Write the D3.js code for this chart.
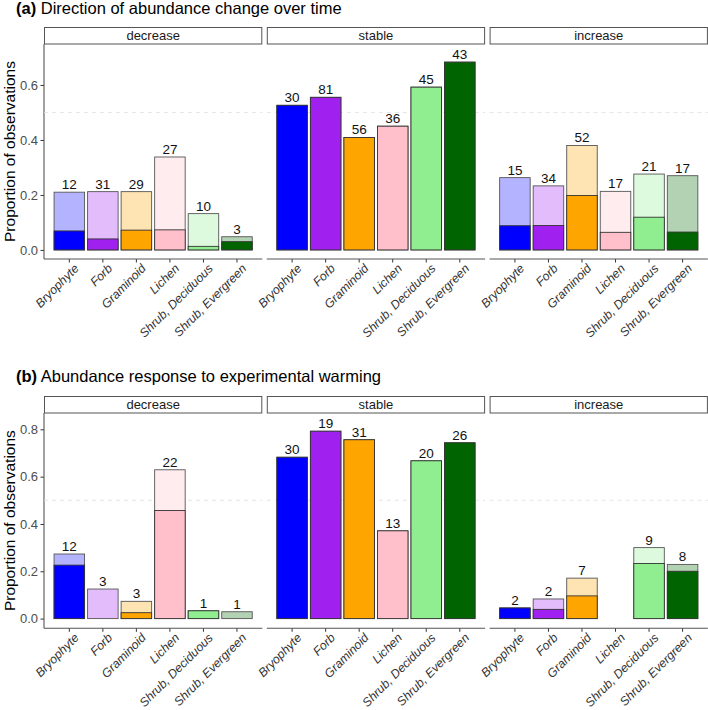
<!DOCTYPE html>
<html>
<head>
<meta charset="utf-8">
<script src="https://cdn.jsdelivr.net/npm/d3@7"></script>
<style>
  body { margin: 0; background: #fff; }
  svg text { font-family: "Liberation Sans", Arial, Helvetica, sans-serif; }
</style>
</head>
<body>
<div id="chart"></div>
<script>
// plant groups and their colours
var groups = ["Bryophyte", "Forb", "Graminoid", "Lichen", "Shrub, Deciduous", "Shrub, Evergreen"];
var directions = ["decrease", "stable", "increase"];
var groupColors = ["#0000FF", "#A020F0", "#FFA500", "#FFC0CB", "#90EE90", "#006400"];

// (a) Direction of abundance change over time
var aTotalDecrease = [0.21, 0.212, 0.212, 0.338, 0.132, 0.048];
var aDarkDecrease = [0.069, 0.040, 0.072, 0.073, 0.013, 0.030];
var aCountDecrease = [12, 31, 29, 27, 10, 3];
var aTotalStable = [0.526, 0.555, 0.409, 0.45, 0.592, 0.683];
var aDarkStable = [0.526, 0.555, 0.409, 0.45, 0.592, 0.683];
var aCountStable = [30, 81, 56, 36, 45, 43];
var aTotalIncrease = [0.263, 0.233, 0.38, 0.213, 0.276, 0.27];
var aDarkIncrease = [0.088, 0.089, 0.198, 0.064, 0.119, 0.065];
var aCountIncrease = [15, 34, 52, 17, 21, 17];

// (b) Abundance response to experimental warming
var bTotalDecrease = [0.273, 0.125, 0.073, 0.629, 0.033, 0.029];
var bDarkDecrease = [0.226, 0, 0.025, 0.457, 0.033, 0];
var bCountDecrease = [12, 3, 3, 22, 1, 1];
var bTotalStable = [0.682, 0.792, 0.756, 0.371, 0.667, 0.743];
var bDarkStable = [0.682, 0.792, 0.756, 0.371, 0.667, 0.743];
var bCountStable = [30, 19, 31, 13, 20, 26];
var bTotalIncrease = [0.045, 0.083, 0.171, 0, 0.3, 0.229];
var bDarkIncrease = [0.045, 0.039, 0.096, 0, 0.233, 0.2];
var bCountIncrease = [2, 2, 7, 0, 9, 8];

var aTicks = [0, 0.2, 0.4, 0.6];
var bTicks = [0, 0.2, 0.4, 0.6, 0.8];

var svgWidth = 708;
var svgHeight = 710;

var svg = d3.select("#chart")
  .append("svg")
  .attr("width", svgWidth)
  .attr("height", svgHeight);

// facet geometry
var panelLeft = 44;
var panelWidth = 218.3;
var panelGap = 4.5;
var stripHeight = 16.5;

var xScale = d3.scaleBand()
  .domain(groups)
  .range([0, panelWidth])
  .paddingInner(0.09)
  .paddingOuter(0.3);

function lighten(c) {
  // colour at alpha 0.3 over white
  var rgb = d3.rgb(c);
  return d3.rgb(rgb.r * 0.3 + 255 * 0.7, rgb.g * 0.3 + 255 * 0.7, rgb.b * 0.3 + 255 * 0.7).formatHex();
}

function drawFigure(cfg) {
  var yScale = d3.scaleLinear()
    .domain(cfg.domain)
    .range([cfg.bottom, cfg.top]);

  // title
  var title = svg.append("text")
    .attr("x", 16)
    .attr("y", cfg.titleY)
    .attr("font-size", 16.5)
    .attr("fill", "#000");
  title.append("tspan").attr("font-weight", "bold").text(cfg.tag);
  title.append("tspan").text(" " + cfg.title);

  // y axis title
  svg.append("text")
    .attr("transform", `translate(15, ${(cfg.top + cfg.bottom) / 2}) rotate(-90)`)
    .attr("text-anchor", "middle")
    .attr("font-size", 15.5)
    .attr("fill", "#000")
    .text("Proportion of observations");

  // y axis (left panel only)
  var yAxis = d3.axisLeft(yScale)
    .tickValues(cfg.ticks)
    .tickFormat(d3.format(".1f"))
    .tickSize(3.5)
    .tickPadding(2.5);
  var yg = svg.append("g")
    .attr("transform", `translate(${panelLeft}, 0)`)
    .call(yAxis);
  yg.select(".domain").remove();
  yg.selectAll(".tick line").attr("stroke", "#333");
  yg.selectAll(".tick text").attr("font-size", 13).attr("fill", "#4d4d4d");
  yg.append("line")
    .attr("x1", 0).attr("x2", 0)
    .attr("y1", cfg.top).attr("y2", cfg.bottom)
    .attr("stroke", "#555").attr("stroke-width", 1.1);

  directions.forEach(function(dir, p) {
    var x0 = panelLeft + p * (panelWidth + panelGap);
    var g = svg.append("g").attr("transform", `translate(${x0}, 0)`);

    // strip
    g.append("rect")
      .attr("x", 0.5)
      .attr("y", cfg.top - stripHeight)
      .attr("width", panelWidth - 1)
      .attr("height", stripHeight)
      .attr("fill", "#fff")
      .attr("stroke", "#555")
      .attr("stroke-width", 1);
    g.append("text")
      .attr("x", panelWidth / 2)
      .attr("y", cfg.top - stripHeight / 2)
      .attr("dy", "0.35em")
      .attr("text-anchor", "middle")
      .attr("font-size", 13)
      .attr("fill", "#1a1a1a")
      .text(dir);

    // dashed reference at 0.5
    g.append("line")
      .attr("x1", 0).attr("x2", panelWidth)
      .attr("y1", yScale(0.5)).attr("y2", yScale(0.5))
      .attr("stroke", "#dedede")
      .attr("stroke-dasharray", "4,4")
      .attr("stroke-width", 0.8);

    var totals = cfg.totals[p];
    var darks = cfg.darks[p];
    var counts = cfg.counts[p];

    var data = groups.map(function(grp, i) {
      return { group: grp, total: totals[i], dark: darks[i], n: counts[i], color: groupColors[i] };
    });

    // light (full proportion) bars
    g.selectAll(".light")
      .data(data.filter(d => d.total > 0))
      .enter()
      .append("rect")
      .attr("class", "light")
      .attr("x", d => xScale(d.group))
      .attr("width", xScale.bandwidth())
      .attr("y", d => yScale(d.total))
      .attr("height", d => yScale(0) - yScale(d.total))
      .attr("fill", d => lighten(d.color))
      .attr("stroke", "#555")
      .attr("stroke-width", 0.9);

    // dark portion
    g.selectAll(".dark")
      .data(data.filter(d => d.dark > 0))
      .enter()
      .append("rect")
      .attr("class", "dark")
      .attr("x", d => xScale(d.group))
      .attr("width", xScale.bandwidth())
      .attr("y", d => yScale(d.dark))
      .attr("height", d => yScale(0) - yScale(d.dark))
      .attr("fill", d => d.color)
      .attr("stroke", "#333")
      .attr("stroke-width", 0.9);

    // counts
    g.selectAll(".count")
      .data(data.filter(d => d.n > 0))
      .enter()
      .append("text")
      .attr("class", "count")
      .attr("x", d => xScale(d.group) + xScale.bandwidth() / 2)
      .attr("y", d => yScale(d.total) - 3)
      .attr("text-anchor", "middle")
      .attr("font-size", 13.5)
      .attr("fill", "#111")
      .text(d => d.n);

    // x axis
    var xAxis = d3.axisBottom(xScale).tickSize(3.5).tickPadding(2);
    var xg = g.append("g")
      .attr("transform", `translate(0, ${cfg.bottom})`)
      .call(xAxis);
    xg.select(".domain").remove();
    xg.append("line")
      .attr("x1", 0).attr("x2", panelWidth)
      .attr("y1", 0).attr("y2", 0)
      .attr("stroke", "#555").attr("stroke-width", 1.1);
    xg.selectAll(".tick line").attr("stroke", "#333");
    xg.selectAll(".tick text")
      .attr("font-size", 12.3)
      .attr("font-style", "italic")
      .attr("fill", "#333")
      .attr("text-anchor", "end")
      .attr("dy", null)
      .attr("transform", "translate(4, 4) rotate(-45)")
      .attr("y", 0)
      .attr("x", 0)
      .attr("dominant-baseline", "hanging");
  });
}

drawFigure({
  tag: "(a)",
  title: "Direction of abundance change over time",
  titleY: 14,
  top: 44,
  bottom: 259,
  domain: [-0.033, 0.749],
  ticks: aTicks,
  totals: [aTotalDecrease, aTotalStable, aTotalIncrease],
  darks: [aDarkDecrease, aDarkStable, aDarkIncrease],
  counts: [aCountDecrease, aCountStable, aCountIncrease]
});

drawFigure({
  tag: "(b)",
  title: "Abundance response to experimental warming",
  titleY: 382,
  top: 413,
  bottom: 628.3,
  domain: [-0.041, 0.869],
  ticks: bTicks,
  totals: [bTotalDecrease, bTotalStable, bTotalIncrease],
  darks: [bDarkDecrease, bDarkStable, bDarkIncrease],
  counts: [bCountDecrease, bCountStable, bCountIncrease]
});
</script>
</body>
</html>
